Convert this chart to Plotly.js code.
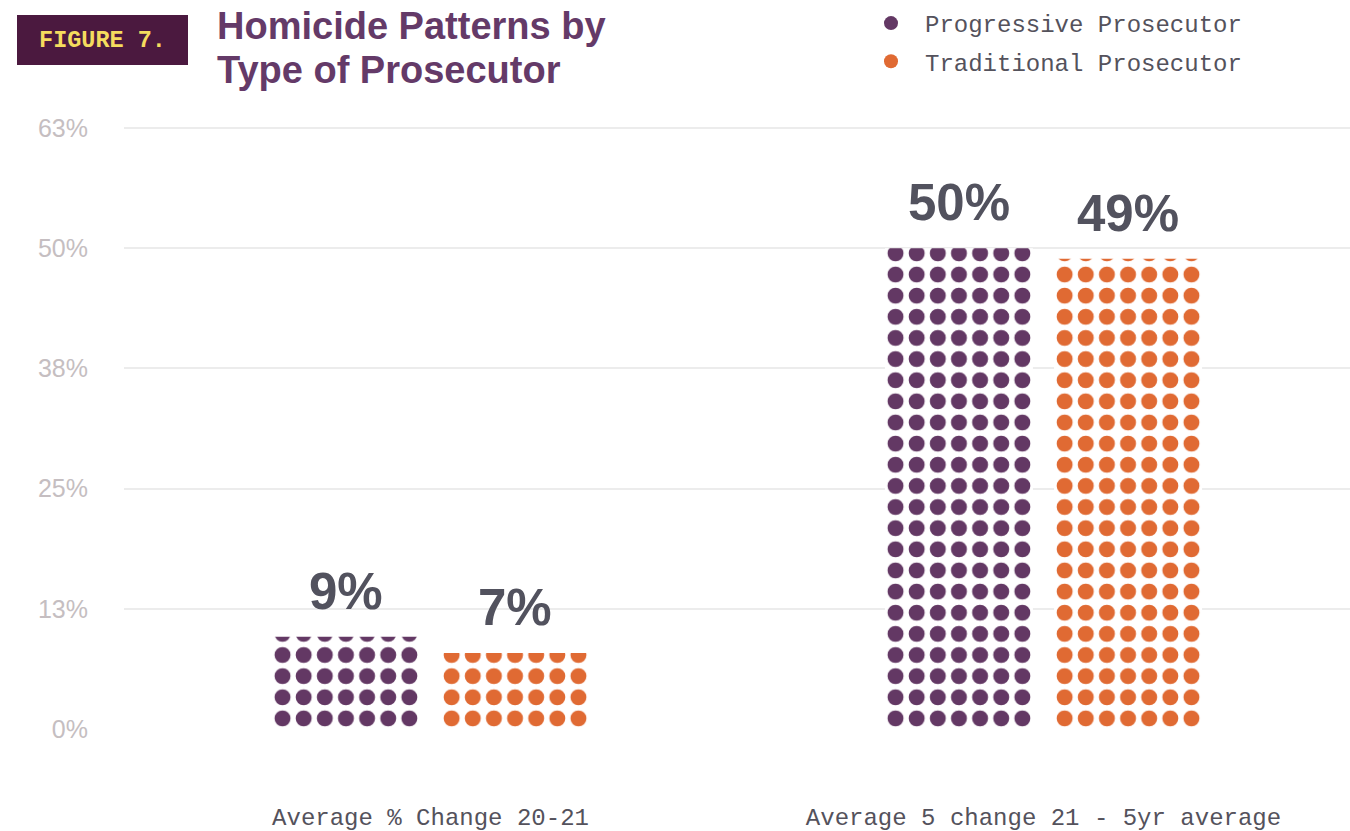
<!DOCTYPE html>
<html>
<head>
<meta charset="utf-8">
<script src="https://cdn.plot.ly/plotly-3.0.1.min.js"></script>
<style>
  html, body { margin: 0; padding: 0; background: #ffffff; }
  #chart { width: 1350px; height: 831px; }
</style>
</head>
<body>
<div id="chart"></div>
<script>
// ---------- data ----------
const categories = ["Average % Change 20-21", "Average 5 change 21 - 5yr average"];
const seriesNames = ["Progressive Prosecutor", "Traditional Prosecutor"];
const progressiveValues = [9.6, 50.0];
const traditionalValues = [7.9, 48.9];
const progressiveLabels = ["9%", "50%"];
const traditionalLabels = ["7%", "49%"];
const yTickVals = [0, 12.5, 25, 37.5, 50, 62.5];
const yTickText = ["0%", "13%", "25%", "38%", "50%", "63%"];
const titleLines = ["Homicide Patterns by", "Type of Prosecutor"];
const figureTag = "FIGURE 7.";

// ---------- layout geometry / style ----------
const W = 1350, H = 831;
const M = { l: 124, r: 0, t: 116, b: 102 };
const PW = W - M.l - M.r, PH = H - M.t - M.b;
const TILE = PW / 58;              // dot pattern tile (px); one category = 29 tiles
const CAT_TILES = 29;
const BAR_TILES = 7;
const PURPLE = "#633864", ORANGE = "#e06a33";
const MONO = "Liberation Mono, DejaVu Sans Mono, monospace";
const SANS = "Liberation Sans, Arial, sans-serif";
const px2x = px => (px - M.l) / PW;
const px2y = py => (H - M.b - py) / PH;

function barTrace(name, values, color, offTiles) {
  return {
    type: "bar", name: name, x: categories, y: values,
    width: BAR_TILES / CAT_TILES, offset: offTiles / CAT_TILES,
    showlegend: false, hoverinfo: "skip",
    marker: {
      color: color,
      line: { width: 0 },
      pattern: { shape: ".", size: TILE, solidity: 0.45, fgcolor: color, bgcolor: "#ffffff", fillmode: "replace" }
    }
  };
}
function legendTrace(name, color, group) {
  return {
    type: "scatter", mode: "markers", name: name, legendgroup: group,
    x: [categories[0]], y: [null], hoverinfo: "skip",
    marker: { color: color, size: 14, symbol: "circle" }
  };
}

const data = [
  barTrace(seriesNames[0], progressiveValues, PURPLE, -7.5),
  barTrace(seriesNames[1], traditionalValues, ORANGE, 0.5),
  legendTrace(seriesNames[0], PURPLE, "g1"),
  legendTrace(seriesNames[1], ORANGE, "g2")
];

const annotations = [];
function addLabels(values, labels, shiftTiles) {
  values.forEach((v, i) => {
    annotations.push({
      xref: "x", yref: "y", x: categories[i], y: v,
      xanchor: "center", yanchor: "bottom",
      xshift: shiftTiles * TILE, yshift: 15,
      text: labels[i], showarrow: false,
      font: { family: SANS, size: 51, color: "#52525e", weight: 700 }
    });
  });
}
addLabels(progressiveValues, progressiveLabels, -4);
addLabels(traditionalValues, traditionalLabels, 4);

annotations.push({
  xref: "paper", yref: "paper", x: px2x(17), y: px2y(15),
  xanchor: "left", yanchor: "top", width: 171, height: 50,
  bgcolor: "#4b193f", borderpad: 0, borderwidth: 0,
  align: "center", valign: "middle", showarrow: false,
  text: "<b>" + figureTag + "</b>",
  font: { family: MONO, size: 23.5, color: "#f5dc5e" }
});
[26, 70].forEach((cy, i) => {
  annotations.push({
    xref: "paper", yref: "paper", x: px2x(216), y: px2y(cy),
    xanchor: "left", yanchor: "middle", showarrow: false,
    borderpad: 0,
    text: "<b>" + titleLines[i] + "</b>",
    font: { family: SANS, size: 38, color: "#643a68" }
  });
});

const layout = {
  width: W, height: H,
  margin: M,
  paper_bgcolor: "#ffffff", plot_bgcolor: "#ffffff",
  barmode: "overlay",
  showlegend: true,
  legend: {
    x: px2x(857), y: px2y(1), xanchor: "left", yanchor: "top",
    traceorder: "grouped", tracegroupgap: 4, itemwidth: 58,
    font: { family: MONO, size: 24, color: "#54525c" },
    bgcolor: "rgba(0,0,0,0)"
  },
  xaxis: {
    type: "category", range: [-0.5, 1.5], fixedrange: true,
    showgrid: false, zeroline: false, showline: false,
    ticks: "outside", ticklen: 66, tickcolor: "rgba(0,0,0,0)",
    tickfont: { family: MONO, size: 24, color: "#54525c" }
  },
  yaxis: {
    range: [0, 63.75], fixedrange: true,
    tickmode: "array", tickvals: yTickVals, ticktext: yTickText,
    showgrid: true, gridcolor: "#ececec", gridwidth: 2,
    zeroline: false, showline: false,
    ticks: "outside", ticklen: 30, tickcolor: "rgba(0,0,0,0)",
    tickfont: { family: SANS, size: 25, color: "#c5bec1" }
  },
  annotations: annotations
};

Plotly.newPlot("chart", data, layout, { displayModeBar: false, staticPlot: true });
</script>
</body>
</html>
